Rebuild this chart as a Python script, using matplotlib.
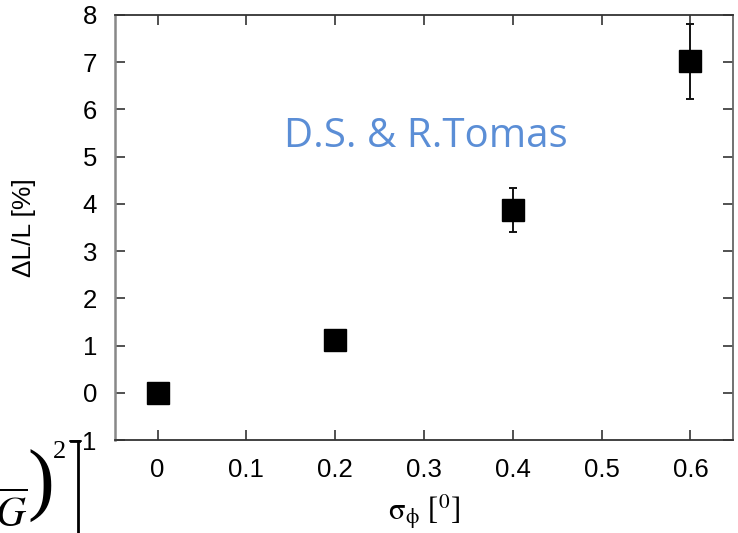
import numpy as np
import matplotlib.pyplot as plt

# luminosity loss vs. phase spread
sigma_phi = [0.0, 0.2, 0.4, 0.6]
dL_over_L = [0.0, 1.12, 3.87, 7.02]
dL_err = [0.0, 0.0, 0.46, 0.80]
xticks = [0, 0.1, 0.2, 0.3, 0.4, 0.5, 0.6]
yticks = [-1, 0, 1, 2, 3, 4, 5, 6, 7, 8]

plt.rcParams['font.family'] = ['Liberation Sans', 'DejaVu Sans']
plt.rcParams['mathtext.fontset'] = 'stix'

W, H = 738, 533
fig = plt.figure(figsize=(W/100, H/100), dpi=100)
ax = fig.add_axes([115/W, 1-440/H, (733-115)/W, (440-15)/H])

# points with error bars
ax.errorbar(sigma_phi, dL_over_L, yerr=dL_err, fmt='s', color='black',
            ms=16, ecolor='#111111', elinewidth=1.4, capsize=3, capthick=1.4)

ax.set_xlim(-0.048, 0.648)
ax.set_ylim(-1, 8)
ax.set_xticks(xticks)
ax.set_xticklabels([('%g' % v) for v in xticks])
ax.set_yticks(yticks)
ax.tick_params(direction='in', length=7, width=1.1, top=True, right=True,
               labelsize=18.5, colors='#222222', labelcolor='black')
ax.tick_params(axis='y', pad=13)
ax.tick_params(axis='x', pad=13)
for s in ax.spines.values():
    s.set_color('#333333')
    s.set_linewidth(1.3)
ax.spines['left'].set_color('#888888')
ax.spines['left'].set_linewidth(1.8)
ax.spines['right'].set_color('#666666')

ax.set_ylabel('ΔL/L [%]', fontsize=19)
ax.yaxis.set_label_coords(-0.128, 0.5)
ax.set_xlabel(r'$\mathrm{\sigma}_{\mathrm{\phi}}$ [$^{\mathrm{0}}$]', fontsize=22,
              fontfamily=['Liberation Serif', 'DejaVu Serif'])
ax.xaxis.set_label_coords(0.5, -(512-440)/425, transform=ax.transAxes)
ax.xaxis.label.set_va('center')

ax.text(0.302, 5.42, 'D.S. & R.Tomas', color='#5B8ED6', fontsize=29,
        fontfamily=['Open Sans', 'DejaVu Sans'], ha='center', va='center')

# bit of a formula clipped at the left edge
fig.text(-5/W, 1-527/H, r'$\overline{G}$', fontsize=30, color='black', va='baseline')
fig.text(41/W, 1-486/H, ')', fontsize=58, color='black', ha='center', va='center',
         fontfamily=['Liberation Serif'])
fig.text(60/W, 1-452/H, '2', fontsize=19, color='black', ha='center', va='center',
         fontfamily=['Liberation Serif'])
fig.add_artist(plt.Line2D([78/W, 78/W], [0, 1-441/H], color='black', lw=2))
fig.add_artist(plt.Line2D([71/W, 79/W], [1-441/H, 1-441/H], color='black', lw=2))

fig.savefig('out.png', dpi=100)
